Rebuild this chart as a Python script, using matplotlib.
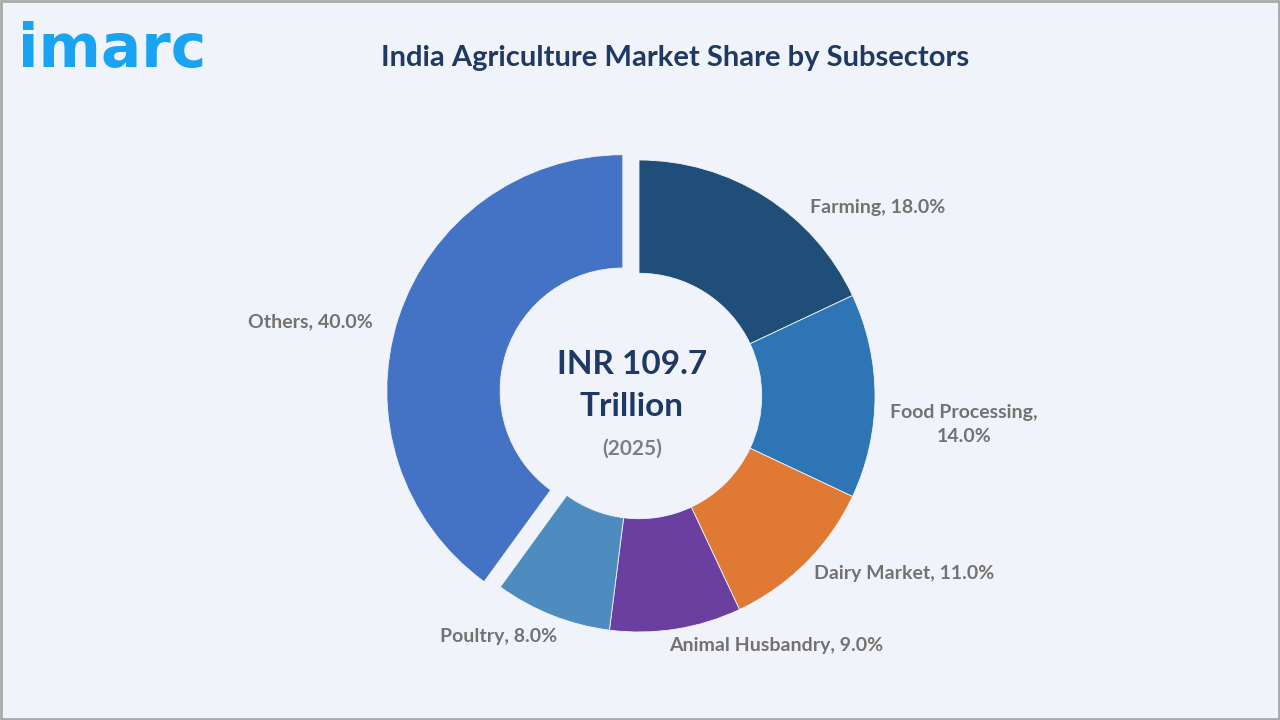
import matplotlib.pyplot as plt
from matplotlib.patches import Rectangle

# datos
subsectores = ["Farming", "Food Processing", "Dairy Market", "Animal Husbandry", "Poultry", "Others"]
participacion = [18.0, 14.0, 11.0, 9.0, 8.0, 40.0]
etiquetas = ["Farming, 18.0%", "Food Processing,\n14.0%", "Dairy Market, 11.0%",
             "Animal Husbandry, 9.0%", "Poultry, 8.0%", "Others, 40.0%"]
total_txt = "INR 109.7\nTrillion"
anio_txt = "(2025)"

colores = ["#1f4e79", "#2e75b6", "#e07934", "#6b3fa0", "#4e8cc0", "#4472c4"]
separacion = [0, 0, 0, 0, 0, 0.072]
# posiciones de etiquetas (radios del pastel)
pos_etiquetas = [(1.01, 0.80), (1.377, -0.119), (1.123, -0.754),
                 (0.581, -1.059), (-0.597, -1.021), (-1.394, 0.314)]

fondo = "#f0f4fa"
plt.rcParams['font.family'] = ['Lato', 'DejaVu Sans']

fig = plt.figure(figsize=(12.8, 7.2), dpi=100)
fig.patch.set_facecolor(fondo)
fig.patches.append(Rectangle((0.001, 0.001), 0.998, 0.997, transform=fig.transFigure,
                             fill=False, edgecolor="#a9a9a9", linewidth=2))

# ejes del pastel: centro en (639, 396) px, radio 236 px
R = 236
half = 300
ax = fig.add_axes([(639 - half) / 1280, (720 - 396 - half) / 720, 2 * half / 1280, 2 * half / 720])
ax.set_facecolor(fondo)
ax.pie(participacion, colors=colores, startangle=90, counterclock=False,
       explode=separacion, radius=1.0,
       wedgeprops=dict(width=0.48, edgecolor=fondo, linewidth=0.6))
ax.set_xlim(-half / R, half / R)
ax.set_ylim(-half / R, half / R)
ax.set_aspect('equal')
ax.axis('off')

for txt, (x, y) in zip(etiquetas, pos_etiquetas):
    ax.text(x, y, txt, ha='center', va='center', fontsize=14, fontweight='bold',
            color="#767171", linespacing=1.5)

ax.text(-0.03, 0.045, total_txt, ha='center', va='center', fontsize=24,
        fontweight='bold', color="#1f3864", linespacing=1.55)
ax.text(-0.03, -0.225, anio_txt, ha='center', va='center', fontsize=15,
        fontweight='bold', color="#7f7f7f")

fig.text(675 / 1280, 1 - 58 / 720, "India Agriculture Market Share by Subsectors",
         ha='center', va='center', fontsize=21, fontweight='bold', color="#1f3864")
fig.text(18 / 1280, 1 - 50 / 720, "imarc", ha='left', va='center', fontsize=43,
         fontweight='bold', color="#1aa3f2", family=['DejaVu Sans'])

fig.savefig("out.png", dpi=100, facecolor=fondo)
